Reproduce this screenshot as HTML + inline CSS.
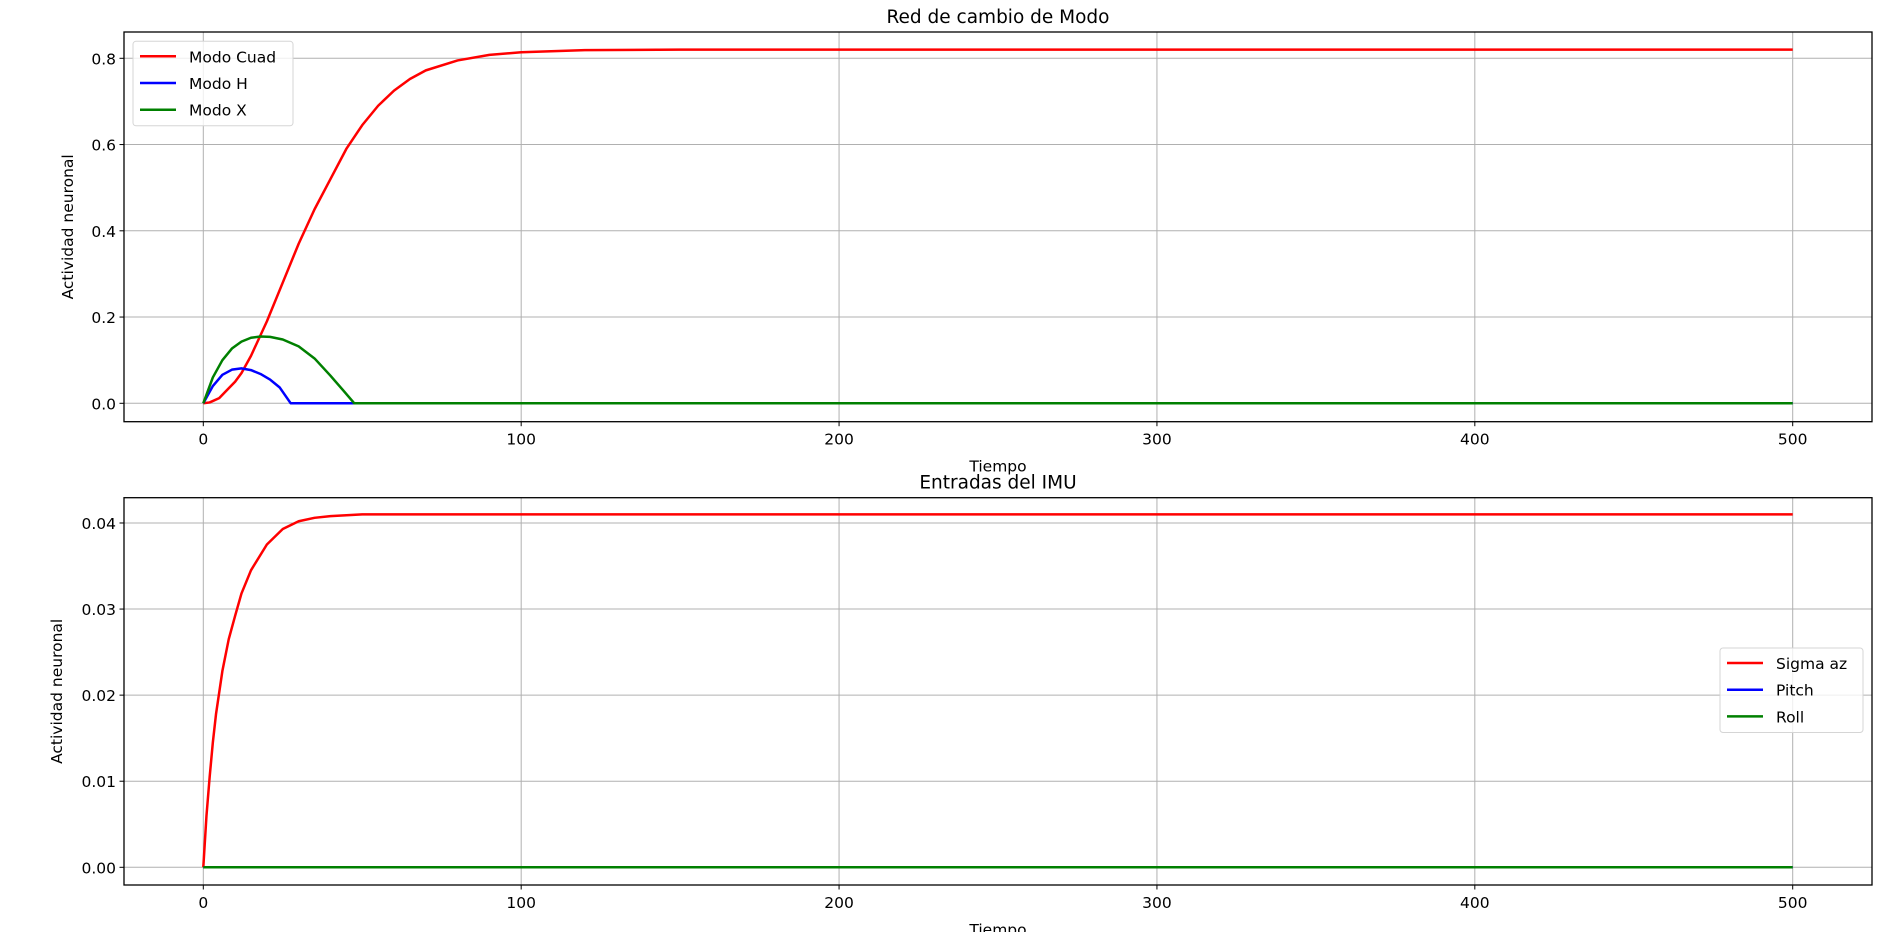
<!DOCTYPE html>
<html><head><meta charset="utf-8"><style>
body{margin:0;background:#fff}
svg{display:block;font-family:"DejaVu Sans","Liberation Sans",sans-serif}
</style></head><body>
<svg id="c" width="1896" height="932"></svg>
<script>
const tA=[0,2,5,8,10,12,15,20,25,30,35,40,45,50,55,60,65,70,80,90,100,120,150,200,500];
const cuad=[0,0.002,0.012,0.035,0.05,0.07,0.11,0.19,0.28,0.37,0.45,0.52,0.59,0.645,0.69,0.725,0.752,0.772,0.795,0.808,0.814,0.819,0.82,0.82,0.82];
const tH=[0,3,6,9,12,15,18,21,24,27.5,500];
const modoH=[0,0.04,0.066,0.078,0.081,0.077,0.068,0.055,0.037,0,0];
const tX=[0,3,6,9,12,15,18,21,25,30,35,40,44,47.5,500];
const modoX=[0,0.06,0.1,0.127,0.143,0.152,0.155,0.154,0.148,0.132,0.104,0.064,0.03,0,0];
const tS=[0,1,2,3,4,6,8,10,12,15,20,25,30,35,40,50,60,500];
const sigma=[0,0.006,0.0105,0.0145,0.0178,0.0228,0.0265,0.0292,0.0318,0.0345,0.0375,0.0393,0.0402,0.0406,0.0408,0.041,0.041,0.041];
const tZ=[0,500];
const zeros=[0,0];
const xTicks=[0,100,200,300,400,500];
const yTicksA=[0,0.2,0.4,0.6,0.8];
const yTicksB=[0,0.01,0.02,0.03,0.04];

const S=document.getElementById('c');const NS='http://www.w3.org/2000/svg';
const FS=15.5;
function mk(t,a,p){const e=document.createElementNS(NS,t);for(const k in a)e.setAttribute(k,a[k]);(p||S).appendChild(e);return e;}
function xs(v){return 203.3+v*(1792.7-203.3)/500;}
function panel(o){
 const g=mk('g',{});
 
 
 const L=124,R=1872;
 o.yt.forEach(v=>{const y=o.ys(v);const l=mk('line',{x1:L,x2:R,y1:y,y2:y,stroke:'#b0b0b0','stroke-width':1},g);
  mk('line',{x1:L-4.5,x2:L,y1:y,y2:y,stroke:'#000','stroke-width':1},g);
  const t=mk('text',{x:L-8,y:y+6,'text-anchor':'end','font-size':FS},g);t.textContent=o.fmt(v);});
 xTicks.forEach(v=>{const x=xs(v);const l=mk('line',{x1:x,x2:x,y1:o.top,y2:o.bot,stroke:'#b0b0b0','stroke-width':1},g);
  mk('line',{x1:x,x2:x,y1:o.bot,y2:o.bot+4.5,stroke:'#000','stroke-width':1},g);
  const t=mk('text',{x:x,y:o.bot+23,'text-anchor':'middle','font-size':FS},g);t.textContent=v;});
 o.series.forEach(s=>{const p=mk('polyline',{points:s.t.map((t,i)=>xs(t)+','+o.ys(s.v[i])).join(' '),fill:'none',stroke:s.c,'stroke-width':2.5,'stroke-linejoin':'round'},g);});
 const f=mk('rect',{x:L,y:o.top,width:R-L,height:o.bot-o.top,fill:'none',stroke:'#000','stroke-width':1.3},g);
 const ti=mk('text',{x:(L+R)/2,y:o.top-9,'text-anchor':'middle','font-size':18.5},g);ti.textContent=o.title;
 const xl=mk('text',{x:(L+R)/2,y:o.bot+50,'text-anchor':'middle','font-size':FS},g);xl.textContent='Tiempo';
 const yl=mk('text',{x:0,y:0,'text-anchor':'middle','font-size':FS,transform:`translate(${o.ylx},${(o.top+o.bot)/2}) rotate(-90)`},g);yl.textContent='Actividad neuronal';
 const lg=mk('g',{},g);
 mk('rect',{x:o.lx,y:o.ly,width:o.lw,height:84.5,rx:3,fill:'#fff','fill-opacity':0.8,stroke:'#d5d5d5','stroke-width':1},lg);
 o.series.forEach((s,i)=>{const y=o.ly+15+i*26.7;const e=mk('g',{},lg);
  mk('line',{x1:o.lx+7,x2:o.lx+43,y1:y,y2:y,stroke:s.c,'stroke-width':2.5},e);
  const t=mk('text',{x:o.lx+56,y:y+6,'font-size':FS},e);t.textContent=s.n;});
}
panel({name:'mode-panel',top:32,bot:421.7,ys:v=>403.3-v*431.25,yt:yTicksA,fmt:v=>v.toFixed(1),title:'Red de cambio de Modo',ylx:73,lx:133,ly:41.3,lw:160,
 series:[{n:'Modo Cuad',t:tA,v:cuad,c:'#ff0000'},{n:'Modo H',t:tH,v:modoH,c:'#0000ff'},{n:'Modo X',t:tX,v:modoX,c:'#008000'}]});
panel({name:'imu-panel',top:497.7,bot:885,ys:v=>867.3-v*8608,yt:yTicksB,fmt:v=>v.toFixed(2),title:'Entradas del IMU',ylx:62,lx:1720,ly:648,lw:143,
 series:[{n:'Sigma az',t:tS,v:sigma,c:'#ff0000'},{n:'Pitch',t:tZ,v:zeros,c:'#0000ff'},{n:'Roll',t:tZ,v:zeros,c:'#008000'}]});
</script>
</body></html>
